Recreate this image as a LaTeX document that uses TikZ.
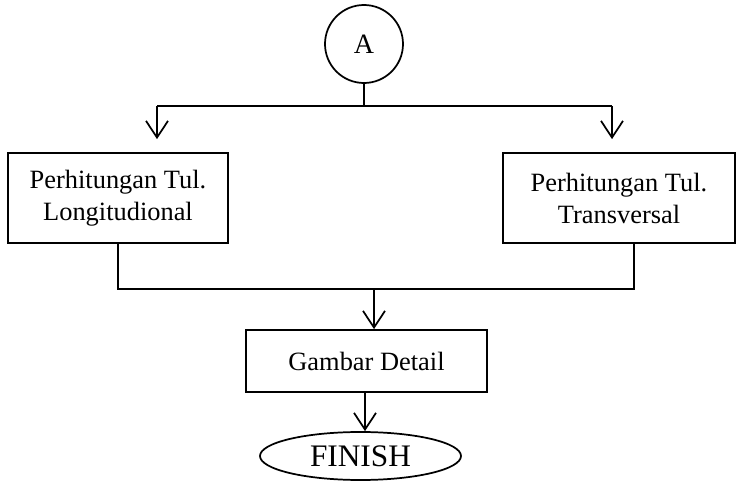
\documentclass[tikz,border=0pt]{standalone}
\usepackage{fontspec}
\setmainfont{Liberation Serif}
\usetikzlibrary{arrows.meta,shapes.geometric}
\begin{document}
\begin{tikzpicture}[x=0.75pt,y=-0.75pt,
  line width=1.3pt,
  arr/.style={-{Straight Barb[length=12.5pt,width=16.5pt,line width=1.3pt]}},
  box/.style={draw, rectangle, inner sep=0pt, align=center, font=\fontsize{19.8}{24}\selectfont}]
\useasboundingbox (0,0) rectangle (736,499);
% nodes
\node[draw, circle, minimum size=58.5pt, inner sep=0pt, font=\fontsize{21}{24}\selectfont] (A) at (364,44) {A};
\node[box, minimum width=165pt, minimum height=67.5pt] (lbox) at (118,198) {Perhitungan Tul.\\Longitudional};
\node[box, minimum width=174pt, minimum height=67.5pt] (rbox) at (619,198) {Perhitungan Tul.\\Transversal};
\node[box, minimum width=180.75pt, minimum height=46.5pt] (gbox) at (366.5,361) {Gambar Detail};
\node[draw, ellipse, minimum width=150.75pt, minimum height=36pt, inner sep=0pt, font=\fontsize{23.5}{26}\selectfont] (fin) at (360.5,456) {FINISH};
% junctions
\coordinate (jl) at (157,106);
\coordinate (jr) at (612,106);
\coordinate (jm) at (374,289);
\coordinate (jb) at (365,392);
% connectors
\draw (A) -- (A |- jl);
\draw (jl) -- (jr);
\draw[arr, shorten >=9.75pt] (jl) -- (jl |- lbox.north);
\draw[arr, shorten >=9.75pt] (jr) -- (jr |- rbox.north);
\draw (lbox.south) |- (jm) -| ([xshift=11.25pt]rbox.south);
\draw[arr] (jm) -- (jm |- gbox.north);
\draw[arr] (jb) -- (jb |- fin.north);
\end{tikzpicture}
\end{document}
